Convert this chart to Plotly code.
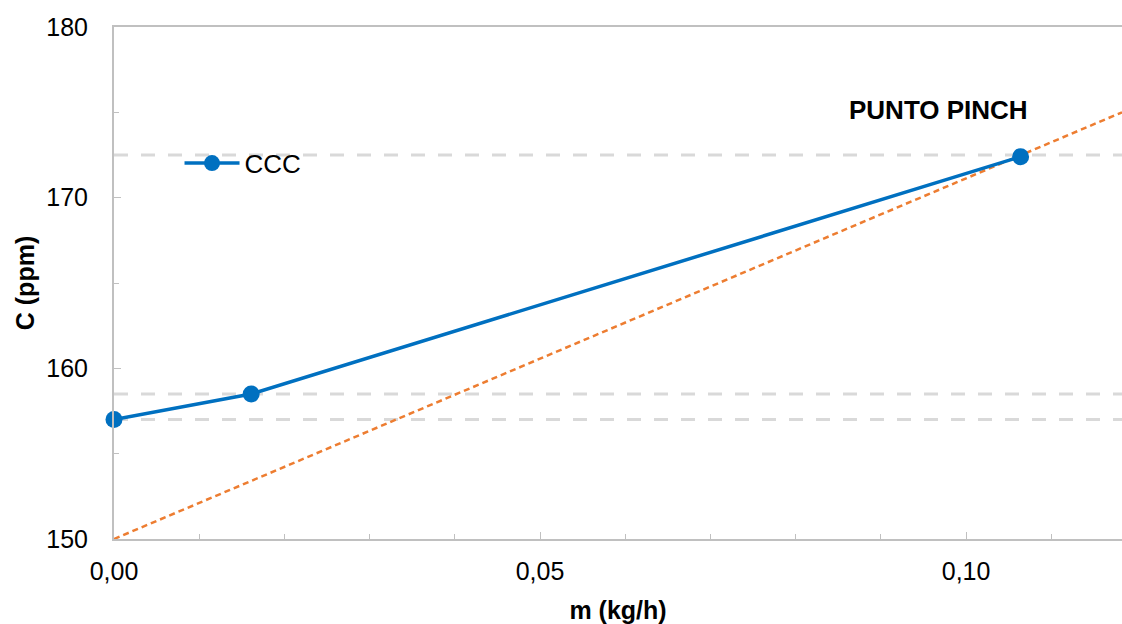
import plotly.graph_objects as go

# Data
ccc_m = [0.0, 0.0161, 0.1064]
ccc_c = [157.0, 158.5, 172.4]
supply_m = [0.0, 0.1183]
supply_c = [150.0, 175.0]
ref_levels = [172.5, 158.5, 157.0]
x_range = [0.0, 0.1183]
y_range = [150, 180]
x_tickvals = [0.0, 0.05, 0.10]
x_ticktext = ["0,00", "0,05", "0,10"]
y_tickvals = [150, 160, 170, 180]
pinch_label = "PUNTO PINCH"

FONT = "Liberation Sans, Arial, sans-serif"

fig = go.Figure()

for lvl in ref_levels:
    fig.add_trace(go.Scatter(
        x=x_range, y=[lvl, lvl], mode="lines",
        line=dict(color="#d9d9d9", width=3, dash="14px,13px"),
        showlegend=False, hoverinfo="skip"))

fig.add_trace(go.Scatter(
    x=supply_m, y=supply_c, mode="lines",
    line=dict(color="#ed7d31", width=2.5, dash="6px,4px"),
    showlegend=False, cliponaxis=False))

fig.add_trace(go.Scatter(
    x=ccc_m, y=ccc_c, mode="lines+markers", name="CCC",
    line=dict(color="#0070c0", width=3.5),
    marker=dict(color="#0070c0", size=17),
    cliponaxis=False))

fig.add_annotation(
    x=0.1064, y=172.4, xref="x", yref="y",
    text="<b>" + pinch_label + "</b>", showarrow=False,
    xshift=-82, yshift=47,
    font=dict(family=FONT, size=26, color="black"))

fig.update_layout(
    width=1122, height=624,
    margin=dict(l=114, r=0, t=27, b=85),
    paper_bgcolor="white", plot_bgcolor="white",
    font=dict(family=FONT, size=25, color="black"),
    legend=dict(x=0.065, y=0.734, xanchor="left", yanchor="middle",
                bgcolor="rgba(0,0,0,0)", font=dict(size=26),
                itemwidth=55),
    xaxis=dict(
        range=x_range, tickvals=x_tickvals, ticktext=x_ticktext,
        showgrid=False, zeroline=False,
        showline=True, linecolor="#c0c0c0", linewidth=2, mirror=True,
        ticks="inside", ticklen=7, tickcolor="#c0c0c0", tickwidth=1,
        minor=dict(dtick=0.01, tick0=0, ticks="inside", ticklen=5, tickcolor="#c0c0c0", showgrid=False),
        tickfont=dict(size=25), ticklabelstandoff=9,
        title=dict(text="<b>m (kg/h)</b>", font=dict(size=25), standoff=20),
    ),
    yaxis=dict(
        range=y_range, tickvals=y_tickvals,
        showgrid=False, zeroline=False,
        showline=True, linecolor="#c0c0c0", linewidth=2,
        ticks="inside", ticklen=7, tickcolor="#c0c0c0", tickwidth=1,
        minor=dict(dtick=5, tick0=150, ticks="inside", ticklen=5, tickcolor="#c0c0c0", showgrid=False),
        tickfont=dict(size=25), ticklabelstandoff=19,
        title=dict(text="<b>C (ppm)</b>", font=dict(size=25), standoff=5),
    ),
)

fig.write_html("out.html", config={"displayModeBar": False},
               post_script="document.body.style.margin='0';document.body.style.overflow='hidden';")
